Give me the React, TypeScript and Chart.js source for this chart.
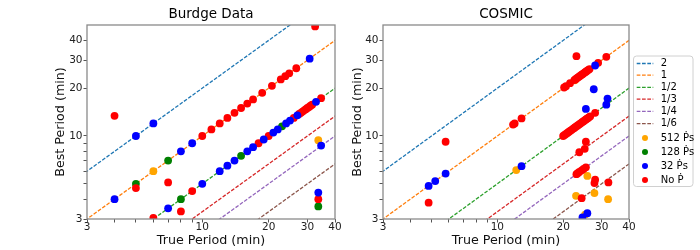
import React, { useEffect, useRef } from 'react';
import { Chart, registerables } from 'chart.js';

Chart.register(...registerables);

const FONT = 'DejaVu Sans';

// Reference ratio lines (best = ratio * true)
const RATIOS = [2, 1, 1 / 2, 1 / 3, 1 / 4, 1 / 6];
const RATIO_LABELS = ['2', '1', '1/2', '1/3', '1/4', '1/6'];
const RATIO_COLORS = ['#1f77b4', '#ff7f0e', '#2ca02c', '#d62728', '#9467bd', '#8c564b'];
const LINE_X = [1, 100];

// Point groups
const GROUP_LABELS = ['512 Ṗs', '128 Ṗs', '32 Ṗs', 'No Ṗ'];
const GROUP_COLORS = ['#ffa500', '#008000', '#0000ff', '#ff0000'];
const GROUP_ORDER = [3, 2, 0, 1];

const AXIS_TICKS = [3, 4, 5, 6, 7, 8, 9, 10, 20, 30, 40];
const LABELED_TICKS = [3, 10, 20, 30, 40];

// ---- Burdge Data ----
const burdge512X = [6, 33.6];
const burdge512Y = [6, 9.4];
const burdge128X = [5, 7, 8, 15, 23, 33.6];
const burdge128Y = [5, 7, 4, 7.5, 11.5, 3.6];
const burdge32X = [4, 5, 6, 7, 8, 9, 10, 12, 13, 14, 16, 17, 19, 21, 22, 24, 25, 27, 30.7, 32.8, 34.6, 33.6];
const burdge32Y = [4, 10, 12, 3.5, 8, 9, 5, 6, 6.5, 7, 8, 8.5, 9.5, 10.5, 11, 12, 12.5, 13.5, 30.7, 16.4, 8.7, 4.4];
const burdgeNoX = [4, 5, 7, 6, 8, 9, 10, 11, 12, 13, 14, 15, 16, 17, 18.7, 20.7, 22.7, 23.8, 24.8, 26.7,
  18, 20, 26, 27.5, 28, 28.5, 29, 29.5, 30, 30.5, 31, 31.5, 34.6, 32.5, 33.6];
const burdgeNoY = [13.4, 4.7, 5.1, 3.05, 3.35, 4.5, 10, 11, 12, 13, 14, 15, 16, 17, 18.7, 20.7, 22.7, 23.8, 24.8, 26.7,
  9, 10, 13, 13.75, 14, 14.25, 14.5, 14.75, 15, 15.25, 15.5, 15.75, 17.3, 49, 4.0];

// ---- COSMIC ----
const cosmic512X = [12.2, 22.6, 25.8, 22.9, 27.8, 32.1, 25.2];
const cosmic512Y = [6.1, 22.4, 5.6, 4.2, 4.37, 4.0, 3.2];
const cosmic128X: number[] = [];
const cosmic128Y: number[] = [];
const cosmic32X = [4.85, 5.2, 5.8, 12.9, 28.0, 27.6, 31.9, 31.5, 25.4, 25.8, 24.5];
const cosmic32Y = [4.85, 5.2, 5.8, 6.45, 27.8, 19.7, 17.2, 15.75, 14.8, 3.26, 3.07];
const cosmicNoX = [
  11.8, 12.0, 12.9, 20.2, 20.6, 21.5, 22.5, 22.8, 23.1, 23.4, 23.7, 24.0, 24.3, 24.6, 24.9, 25.2, 25.5, 25.8, 26.1, 26.4, 28.9, 31.5,
  20.0, 20.3, 20.6, 20.9, 21.2, 21.5, 21.8, 22.1, 22.4, 22.7, 23.0, 23.3, 23.6, 23.9, 24.2, 24.5, 24.8, 25.1, 25.4, 25.7, 26.0, 26.3, 26.6, 28.0,
  5.8, 4.85, 23.0, 25.4, 25.1, 23.7,
  23.0, 23.3, 23.7, 24.3, 24.8, 25.4,
  28.0, 27.8, 32.2, 24.3,
];
const cosmicNoY = [
  11.8, 12.0, 12.9, 20.2, 20.6, 21.5, 22.5, 22.8, 23.1, 23.4, 23.7, 24.0, 24.3, 24.6, 24.9, 25.2, 25.5, 25.8, 26.1, 26.4, 28.9, 31.5,
  10.0, 10.15, 10.3, 10.45, 10.6, 10.75, 10.9, 11.05, 11.2, 11.35, 11.5, 11.65, 11.8, 11.95, 12.1, 12.25, 12.4, 12.55, 12.7, 12.85, 13.0, 13.15, 13.3, 14.0,
  9.2, 3.8, 31.8, 9.2, 8.3, 7.9,
  5.75, 5.83, 5.93, 6.08, 6.2, 6.35,
  5.3, 5.05, 5.1, 4.06,
];

// Legend layout (canvas coords of right panel)
const LEG_LINE_Y = [63.5, 75.2, 87.4, 99.2, 111.4, 123.6];
const LEG_MARK_Y = [138, 152, 166, 180];

function toPts(xs: number[], ys: number[]) {
  return xs.map((x, i) => ({ x, y: ys[i] }));
}

function buildDatasets(groups: [number[], number[]][]) {
  const ds: any[] = [];
  groups.forEach(([xs, ys], gi) => {
    ds.push({
      label: GROUP_LABELS[gi],
      data: toPts(xs, ys),
      backgroundColor: GROUP_COLORS[gi],
      borderWidth: 0,
      pointRadius: 3.9,
      pointHoverRadius: 3.9,
      showLine: false,
      clip: 0,
      order: GROUP_ORDER[gi],
    });
  });
  RATIOS.forEach((r, i) => {
    ds.push({
      label: RATIO_LABELS[i],
      data: LINE_X.map((x) => ({ x, y: r * x })),
      borderColor: RATIO_COLORS[i],
      borderWidth: 1.3,
      borderDash: [3.7, 1.6],
      pointRadius: 0,
      showLine: true,
      fill: false,
      clip: 0,
      order: 10 + i,
    });
  });
  return ds;
}

const framePlugin = {
  id: 'frame',
  afterDatasetsDraw(chart: any) {
    const { ctx, chartArea: a } = chart;
    ctx.save();
    ctx.strokeStyle = '#8a8a8a';
    ctx.lineWidth = 1.3;
    ctx.strokeRect(a.left, a.top, a.right - a.left, a.bottom - a.top);
    ctx.restore();
  },
};

const titlePlugin = {
  id: 'panelTitle',
  afterDraw(chart: any, _args: any, opts: any) {
    const { ctx, chartArea: a } = chart;
    ctx.save();
    ctx.font = `13.5px "${FONT}"`;
    ctx.fillStyle = '#000';
    ctx.textAlign = 'center';
    ctx.textBaseline = 'middle';
    ctx.fillText(opts.text, (a.left + a.right) / 2, 14.5);
    ctx.restore();
  },
};

const legendPlugin = {
  id: 'sideLegend',
  afterDraw(chart: any) {
    const ctx = chart.ctx as CanvasRenderingContext2D;
    ctx.save();
    const x0 = 283.5, y0 = 56, w = 59.5, h = 130.5, r = 3;
    ctx.beginPath();
    ctx.moveTo(x0 + r, y0);
    ctx.arcTo(x0 + w, y0, x0 + w, y0 + h, r);
    ctx.arcTo(x0 + w, y0 + h, x0, y0 + h, r);
    ctx.arcTo(x0, y0 + h, x0, y0, r);
    ctx.arcTo(x0, y0, x0 + w, y0, r);
    ctx.closePath();
    ctx.fillStyle = 'rgba(255,255,255,0.8)';
    ctx.fill();
    ctx.strokeStyle = '#d0d0d0';
    ctx.lineWidth = 1;
    ctx.stroke();

    ctx.font = `10px "${FONT}"`;
    ctx.textBaseline = 'middle';
    ctx.textAlign = 'left';
    RATIO_LABELS.forEach((lab, i) => {
      const y = LEG_LINE_Y[i];
      ctx.beginPath();
      ctx.setLineDash([3.7, 1.6]);
      ctx.strokeStyle = RATIO_COLORS[i];
      ctx.lineWidth = 1.3;
      ctx.moveTo(286.7, y);
      ctx.lineTo(303.3, y);
      ctx.stroke();
      ctx.setLineDash([]);
      ctx.fillStyle = '#000';
      ctx.fillText(lab, 310.7, y);
    });
    GROUP_LABELS.forEach((lab, i) => {
      const y = LEG_MARK_Y[i];
      ctx.beginPath();
      ctx.fillStyle = GROUP_COLORS[i];
      ctx.arc(295, y, 3, 0, Math.PI * 2);
      ctx.fill();
      ctx.fillStyle = '#000';
      ctx.fillText(lab, 310.7, y);
    });
    ctx.restore();
  },
};

function makeScale(axis: 'x' | 'y', title: string, fitSize: number, titlePad: any) {
  return {
    type: 'logarithmic',
    min: 3,
    max: axis === 'x' ? 40 : 50,
    afterBuildTicks: (s: any) => {
      s.ticks = AXIS_TICKS.map((v) => ({ value: v }));
    },
    afterFit: (s: any) => {
      if (axis === 'x') s.height = fitSize;
      else s.width = fitSize;
    },
    ticks: {
      autoSkip: false,
      maxRotation: 0,
      padding: axis === 'x' ? -1.5 : 1,
      color: '#222',
      font: { family: FONT, size: 10.5 },
      callback: (v: any) => (LABELED_TICKS.includes(Number(v)) ? String(v) : ''),
    },
    grid: {
      drawOnChartArea: false,
      drawTicks: true,
      tickLength: 3.5,
      tickColor: '#555',
      tickWidth: 1,
    },
    border: { display: false },
    title: {
      display: true,
      text: title,
      color: '#111',
      font: { family: FONT, size: 12.7 },
      padding: titlePad,
    },
  };
}

function Panel(props: { title: string; groups: [number[], number[]][]; left: number; right: boolean }) {
  const ref = useRef<HTMLCanvasElement>(null);
  useEffect(() => {
    if (!ref.current) return;
    const chart = new Chart(ref.current, {
      type: 'scatter',
      data: { datasets: buildDatasets(props.groups) },
      options: {
        animation: false,
        responsive: false,
        events: [],
        layout: {
          padding: props.right
            ? { left: 0, right: 71, top: 25, bottom: 0 }
            : { left: 50, right: 15, top: 25, bottom: 0 },
        },
        plugins: {
          legend: { display: false },
          tooltip: { enabled: false },
          title: { display: false },
          panelTitle: { text: props.title },
        },
        scales: {
          x: makeScale('x', 'True Period (min)', 31, { top: 0, bottom: 1.5 }),
          y: makeScale('y', 'Best Period (min)', props.right ? 33 : 37, { top: props.right ? 0 : 3.5, bottom: 0 }),
        },
      } as any,
      plugins: props.right ? [framePlugin, titlePlugin, legendPlugin] : [framePlugin, titlePlugin],
    });
    return () => chart.destroy();
  }, []);
  return (
    <canvas
      ref={ref}
      width={350}
      height={250}
      style={{ position: 'absolute', left: props.left, top: 0, width: 350, height: 250 }}
    />
  );
}

export default function App() {
  return (
    <div style={{ position: 'fixed', left: 0, top: 0, width: 700, height: 250, background: '#fff' }}>
      <Panel
        title="Burdge Data"
        left={0}
        right={false}
        groups={[
          [burdge512X, burdge512Y],
          [burdge128X, burdge128Y],
          [burdge32X, burdge32Y],
          [burdgeNoX, burdgeNoY],
        ]}
      />
      <Panel
        title="COSMIC"
        left={350}
        right={true}
        groups={[
          [cosmic512X, cosmic512Y],
          [cosmic128X, cosmic128Y],
          [cosmic32X, cosmic32Y],
          [cosmicNoX, cosmicNoY],
        ]}
      />
    </div>
  );
}
